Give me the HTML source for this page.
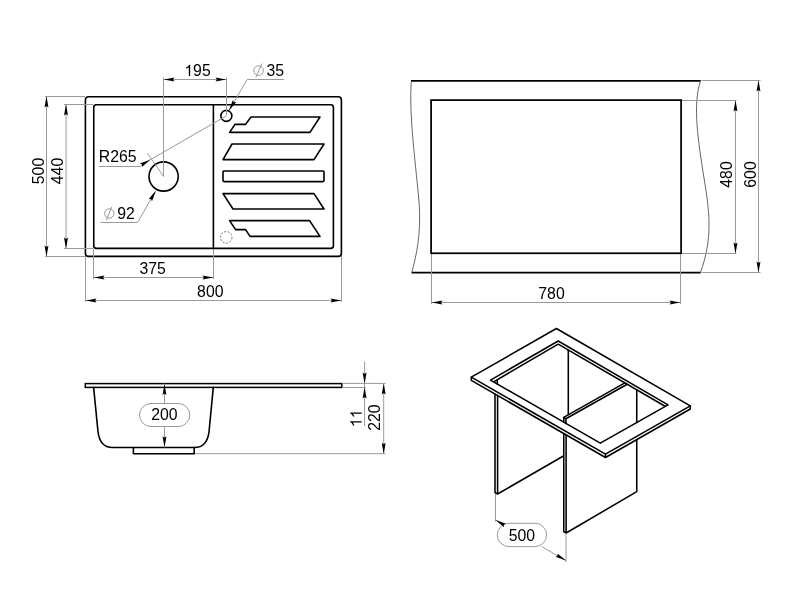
<!DOCTYPE html>
<html><head><meta charset="utf-8">
<style>
html,body{margin:0;padding:0;background:#fff;}
body{width:800px;height:607px;overflow:hidden;}
svg{display:block;will-change:transform;filter:grayscale(1);}
text{font-family:"Liberation Sans",sans-serif;font-size:15.8px;fill:#000;}
.k{stroke:#000;stroke-width:1.6;fill:none;stroke-linejoin:round;stroke-linecap:round;}
.m{stroke:#000;stroke-width:1.55;fill:none;stroke-linejoin:round;stroke-linecap:round;}
.t{stroke:#9a9a9a;stroke-width:1;fill:none;}
.w{stroke:#555;stroke-width:0.9;fill:none;}
.k2{stroke:#000;stroke-width:1.75;fill:none;stroke-linejoin:miter;stroke-linecap:butt;}
.a{fill:#000;stroke:none;}
</style></head><body>
<svg width="800" height="607" viewBox="0 0 800 607">
<defs>
<path id="ar" d="M0,0 L-3,-0.6 L-11,-1.95 L-9.5,0 L-11,1.95 L-3,0.6 Z"/>
<path id="one" d="M763 0H583V1147Q518 1085 412.5 1023Q307 961 223 930V1104Q374 1175 487 1276Q600 1377 647 1472H763Z" transform="scale(0.0077148,-0.0077148)"/>
</defs>
<rect width="800" height="607" fill="#fff"/>

<!-- ===== TOP LEFT: plan view ===== -->
<g id="v1">
<rect class="k" x="85.4" y="96.75" width="256" height="159.65" rx="3.2"/>
<rect class="k" x="93.75" y="104.8" width="239.65" height="143.6" rx="2.6"/>
<path class="k" d="M213.4,105 V248.2"/>
<circle class="k" cx="163.6" cy="176.5" r="14.6"/>
<circle class="k" cx="226.35" cy="115.9" r="5.5"/>
<circle cx="226.2" cy="237.4" r="5.8" fill="none" stroke="#666" stroke-width="0.9" stroke-dasharray="2 1.5"/>
<!-- slots -->
<path class="k" d="M251,117 H320 L310,132.4 H229.6 L235,124.4 H245.6 Z"/>
<path class="k" d="M232,144 H324 L314,159.6 H223 Z"/>
<rect class="k" x="223" y="171" width="101" height="10.6" rx="1"/>
<path class="k" d="M223,193.6 H314 L324,209 H233 Z"/>
<path class="k" d="M229.6,220.6 H309.6 L320,236.4 H250 L245.6,229.6 H235.6 Z"/>

<!-- dim 195 -->
<path class="t" d="M163.5,77.5 V176.5 M226.5,77.5 V115.5 M163.5,79.5 H226.5"/>
<use href="#ar" class="a" transform="translate(163.5,79.5) rotate(180)"/>
<use href="#ar" class="a" transform="translate(226.5,79.5)"/>
<use href="#one" class="a" transform="translate(184.3,76)"/><text x="193.1" y="76">95</text>
<!-- dia 35 -->
<path class="t" d="M284,79.5 H247.2 L229.3,110"/>
<use href="#ar" class="a" transform="translate(229,110.5) rotate(120.4)"/>
<circle class="t" cx="258.6" cy="70.6" r="4.8"/><path class="t" d="M255.9,77.4 L261.9,63.6"/>
<text x="266.5" y="76.2">35</text>
<!-- R265 -->
<path class="t" d="M98.9,166.5 H140 L150.1,159.8 L226.35,115.9 M147.3,153.1 L163.6,176.5"/>
<use href="#ar" class="a" transform="translate(150.3,159.6) rotate(-31)"/>
<text x="98.8" y="162.4">R265</text>
<!-- dia 92 -->
<path class="t" d="M100.5,222.5 H137.5 L155.4,191.5"/>
<use href="#ar" class="a" transform="translate(155.8,190.8) rotate(-60)"/>
<circle class="t" cx="109.3" cy="213.5" r="4.7"/><path class="t" d="M106.3,220.5 L111.8,206.8"/>
<text x="117.3" y="218.5">92</text>
<!-- dim 500 / 440 -->
<path class="t" d="M45,96.5 H85 M45,256.5 H85 M46.5,96.5 V256.5"/>
<use href="#ar" class="a" transform="translate(46.5,96.5) rotate(-90)"/>
<use href="#ar" class="a" transform="translate(46.5,256.5) rotate(90)"/>
<path class="t" d="M64,104.5 H93 M64,248.5 H93 M66,104.5 V248.5"/>
<use href="#ar" class="a" transform="translate(66,104.5) rotate(-90)"/>
<use href="#ar" class="a" transform="translate(66,248.5) rotate(90)"/>
<text transform="translate(43.5,171) rotate(-90)" text-anchor="middle">500</text>
<text transform="translate(63,171) rotate(-90)" text-anchor="middle">440</text>
<!-- dim 375 / 800 -->
<path class="t" d="M93.5,249 V279 M213.5,249 V279 M93.5,277.5 H213.5"/>
<use href="#ar" class="a" transform="translate(93.5,277.5) rotate(180)"/>
<use href="#ar" class="a" transform="translate(213.5,277.5)"/>
<text x="152.6" y="274.2" text-anchor="middle">375</text>
<path class="t" d="M85.5,256 V302 M341.5,256 V302 M85.5,300.5 H341.5"/>
<use href="#ar" class="a" transform="translate(85.5,300.5) rotate(180)"/>
<use href="#ar" class="a" transform="translate(341.5,300.5)"/>
<text x="210.3" y="297.3" text-anchor="middle">800</text>
</g>

<!-- ===== TOP RIGHT: cutout ===== -->
<g id="v2">
<path class="k2" d="M411,80.75 H700.7 M411.6,272.5 H700.75"/>
<rect class="k2" x="431.1" y="100.1" width="250" height="153.15"/>
<path class="w" d="M411.3,81 C408.5,115 416.5,170 419.3,205 C421,235 416.5,255 411.8,272.4"/>
<path class="w" d="M700.5,81 C692.5,105 698,140 704,178 C710.5,217 712,240 700.5,272.4"/>
<path class="t" d="M431.5,254 V304 M680.5,254 V304 M431.5,302.5 H680.5"/>
<use href="#ar" class="a" transform="translate(431.5,302.5) rotate(180)"/>
<use href="#ar" class="a" transform="translate(680.5,302.5)"/>
<text x="551.5" y="299.1" text-anchor="middle">780</text>
<path class="t" d="M682,100.5 H736.5 M682,253.5 H736.5 M735.5,100.5 V253.5"/>
<use href="#ar" class="a" transform="translate(735.5,100.5) rotate(-90)"/>
<use href="#ar" class="a" transform="translate(735.5,253.5) rotate(90)"/>
<path class="t" d="M701.5,80.5 H760.5 M701.5,272.5 H760.5 M758.5,80.5 V272.5"/>
<use href="#ar" class="a" transform="translate(758.5,80.5) rotate(-90)"/>
<use href="#ar" class="a" transform="translate(758.5,272.5) rotate(90)"/>
<text transform="translate(732.2,174.5) rotate(-90)" text-anchor="middle">480</text>
<text transform="translate(755.5,174.5) rotate(-90)" text-anchor="middle">600</text>
</g>

<!-- ===== BOTTOM LEFT: side view ===== -->
<g id="v3">
<rect class="k2" style="stroke-width:1.5" x="85.3" y="383.6" width="256.5" height="3.8"/>
<path class="k" d="M93.6,387.4 L98,431.5 Q99.8,447.5 112.5,447.5 H194.5 Q207,447.5 209,432 L213.3,387.4"/>
<path class="k" d="M133.4,447.5 V453.8 H194.2 V447.5"/>
<path class="t" d="M164.5,383.6 V403.5 M164.5,426.5 V447.3"/>
<use href="#ar" class="a" transform="translate(164.5,384) rotate(-90)"/>
<use href="#ar" class="a" transform="translate(164.5,447.2) rotate(90)"/>
<rect class="t" x="139.5" y="403.5" width="50.3" height="23" rx="11.5"/>
<text x="164.4" y="420.3" text-anchor="middle">200</text>
<path class="t" d="M342,383.4 H385.5 M342,387.5 H366 M195,453.7 H385.5"/>
<path class="t" d="M364.6,361.4 V426 M383.7,383.4 V453.7"/>
<use href="#ar" class="a" transform="translate(364.6,383.4) rotate(90)"/>
<use href="#ar" class="a" transform="translate(364.6,387.5) rotate(-90)"/>
<use href="#ar" class="a" transform="translate(383.7,383.4) rotate(-90)"/>
<use href="#ar" class="a" transform="translate(383.7,453.7) rotate(90)"/>
<g transform="translate(361.6,418.3) rotate(-90)"><use href="#one" class="a" transform="translate(-8.8,0)"/><use href="#one" class="a" transform="translate(0,0)"/></g>
<text transform="translate(380.3,417.6) rotate(-90)" text-anchor="middle">220</text>
</g>

<!-- ===== BOTTOM RIGHT: isometric ===== -->
<g id="v4">
<!-- frame top face outer -->
<path class="m" d="M556.4,328.5 L690.3,405.8 L605.5,454.2 L471.3,377.2 Z"/>
<path class="m" d="M471.3,377.2 V380.4 L605.5,457.5 L690.3,409 V405.8 M605.5,454.2 V457.5"/>
<!-- inner opening -->
<path class="m" d="M558.2,341 L668,404.8 L600.3,443.2 L490.5,380.1 Z"/>
<path class="m" d="M493.6,381.8 L558.2,344.2 L664.6,406 M497.3,379.8 V384"/>
<!-- left panel -->
<path class="m" d="M495,394.2 V492.6 L497.6,494 V395.6 M497.6,494 L563.4,456"/>
<path class="m" d="M568.3,350.2 V414.6"/>
<!-- right/front panel -->
<path class="m" d="M563.75,422.2 V417.4 L565.9,418.7 V423.4"/>
<path class="m" d="M563.75,417.4 L624.9,382.9 M565.9,418.7 L627.2,384.2"/>
<path class="m" d="M563.75,433.6 V531.6 L566.1,533 V434.8 M566.1,533 L636.75,491.7 V439.8 M636.75,422.4 V390.2"/>
<!-- dim 500 -->
<path class="t" d="M495.5,494 V521.5 M566,533.5 V562"/>
<path class="t" d="M495.5,520 L504,524.9 M541.5,546.5 L566,560.6"/>
<rect class="t" x="497.3" y="523.3" width="49.3" height="23.3" rx="11.65" fill="#fff"/>
<use href="#ar" class="a" transform="translate(495.5,520) rotate(210)"/>
<use href="#ar" class="a" transform="translate(566,560.6) rotate(30)"/>
<text x="521.9" y="540.7" text-anchor="middle">500</text>
</g>
</svg>
</body></html>
